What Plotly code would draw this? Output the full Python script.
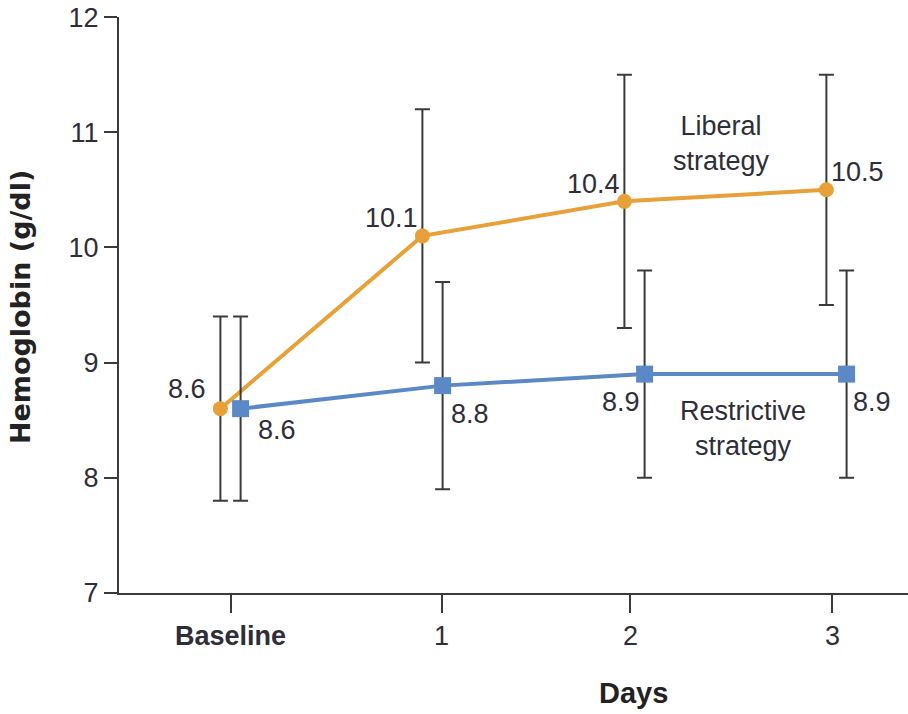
import plotly.graph_objects as go

# Hemoglobin by day for the two transfusion strategies (mean and SD)
days = ["Baseline", "1", "2", "3"]
liberal = [8.6, 10.1, 10.4, 10.5]
liberal_sd = [0.8, 1.1, 1.1, 1.0]
restrictive = [8.6, 8.8, 8.9, 8.9]
restrictive_sd = [0.8, 0.9, 0.9, 0.9]
y_ticks = [7, 8, 9, 10, 11, 12]

ORANGE = "#E8A038"
BLUE = "#5B88C6"
INK = "#2E2E38"
AXIS = "#3A3A3A"
FONT = "Liberation Sans, Arial, sans-serif"
FS = 27

idx = list(range(len(days)))
dodge = 0.05
x_lib = [i - dodge for i in idx]
x_res = [i + dodge for i in idx]

fig = go.Figure()

fig.add_trace(go.Scatter(
    x=x_lib, y=liberal, mode="lines+markers", name="Liberal strategy",
    line=dict(color=ORANGE, width=4),
    marker=dict(symbol="circle", size=15, color=ORANGE),
    error_y=dict(type="data", array=liberal_sd, visible=True,
                 color=AXIS, thickness=2, width=7.5),
    showlegend=False,
))
fig.add_trace(go.Scatter(
    x=x_res, y=restrictive, mode="lines+markers", name="Restrictive strategy",
    line=dict(color=BLUE, width=4),
    marker=dict(symbol="square", size=17, color=BLUE),
    error_y=dict(type="data", array=restrictive_sd, visible=True,
                 color=AXIS, thickness=2, width=7.5),
    showlegend=False,
))

# value labels beside each point
lib_shift = [(-33, 20), (-31, 18), (-31, 17), (31, 18)]
res_shift = [(36, -21), (27, -28), (-24, -28), (25, -28)]
annotations = []
for xs, ys, shifts in ((x_lib, liberal, lib_shift), (x_res, restrictive, res_shift)):
    for x, y, (dx, dy) in zip(xs, ys, shifts):
        annotations.append(dict(
            x=x, y=y, xref="x", yref="y", text=f"{y:.1f}", showarrow=False,
            xshift=dx, yshift=dy, xanchor="center", yanchor="middle",
            font=dict(family=FONT, size=FS, color=INK),
        ))

# series names
annotations.append(dict(
    x=2.433, y=10.9, xref="x", yref="y", text="Liberal<br>strategy",
    showarrow=False, xanchor="center", yanchor="middle", align="center",
    font=dict(family=FONT, size=FS, color=INK),
))
annotations.append(dict(
    x=2.537, y=8.43, xref="x", yref="y", text="Restrictive<br>strategy",
    showarrow=False, xanchor="center", yanchor="middle", align="center",
    font=dict(family=FONT, size=FS, color=INK),
))

# axis titles
annotations.append(dict(
    x=-0.125, y=0.497, xref="paper", yref="paper", text="<b>Hemoglobin (g/dl)</b>",
    showarrow=False, textangle=-90, xanchor="center", yanchor="middle",
    font=dict(family="DejaVu Sans, sans-serif", size=27, color="#222222"),
))
annotations.append(dict(
    x=0.6515, y=-0.1736, xref="paper", yref="paper", text="<b>Days</b>",
    showarrow=False, xanchor="center", yanchor="middle",
    font=dict(family=FONT, size=29, color="#222222"),
))

fig.update_layout(
    width=908, height=714,
    margin=dict(l=119, r=0, t=17, b=121),
    paper_bgcolor="white", plot_bgcolor="white",
    annotations=annotations,
    xaxis=dict(
        range=[-0.552, 3.354],
        tickvals=[0, 1.045, 1.98, 2.98],
        ticktext=["<b>" + days[0] + "</b>"] + days[1:],
        ticks="outside", ticklen=18, tickwidth=2, tickcolor=AXIS,
        showline=True, linecolor=AXIS, linewidth=2,
        showgrid=False, zeroline=False,
        tickfont=dict(family=FONT, size=FS, color=INK),
    ),
    yaxis=dict(
        range=[6.9995, 12.0005], tickvals=y_ticks,
        ticks="outside", ticklen=13, tickwidth=2, tickcolor=AXIS,
        showline=True, linecolor=AXIS, linewidth=2,
        showgrid=False, zeroline=False,
        tickfont=dict(family=FONT, size=FS, color=INK),
    ),
)

fig.write_html("out.html")
